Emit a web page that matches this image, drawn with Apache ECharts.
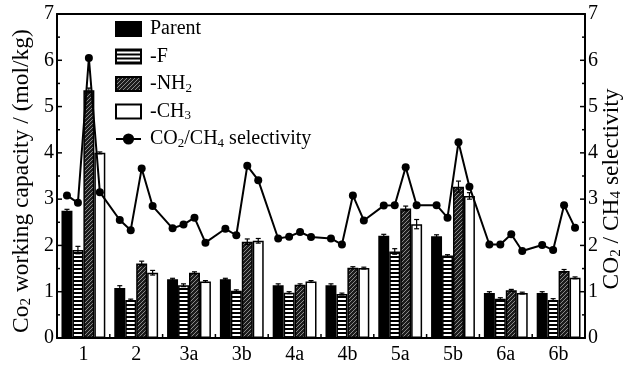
<!DOCTYPE html>
<html>
<head>
<meta charset="utf-8">
<script src="https://cdn.jsdelivr.net/npm/echarts@6/dist/echarts.min.js"></script>
<style>html,body{margin:0;padding:0;background:#fff}#c{width:625px;height:365px}</style>
</head>
<body>
<div id="c"></div>
<script>
// ---- data ----
const categories = ['1', '2', '3a', '3b', '4a', '4b', '5a', '5b', '6a', '6b'];
const seriesNames = ['Parent', '-F', '-NH2', '-CH3'];
const parentVals = [2.75, 1.08, 1.27, 1.27, 1.14, 1.14, 2.21, 2.20, 0.97, 0.97];
const fVals      = [1.90, 0.82, 1.14, 1.02, 0.98, 0.95, 1.87, 1.78, 0.85, 0.82];
const nh2Vals    = [5.35, 1.61, 1.41, 2.08, 1.15, 1.52, 2.80, 3.27, 1.03, 1.45];
const ch3Vals    = [4.00, 1.41, 1.22, 2.10, 1.22, 1.51, 2.46, 3.07, 0.97, 1.30];
const parentErr  = [0.03, 0.05, 0.02, 0.02, 0.03, 0.03, 0.03, 0.03, 0.03, 0.03];
const fErr       = [0.08, 0.02, 0.03, 0.02, 0.02, 0.02, 0.06, 0.02, 0.02, 0.03];
const nh2Err     = [0.05, 0.05, 0.02, 0.06, 0.02, 0.02, 0.05, 0.12, 0.02, 0.03];
const ch3Err     = [0.02, 0.05, 0.02, 0.05, 0.02, 0.02, 0.10, 0.07, 0.02, 0.02];
// CO2/CH4 selectivity, one value per bar (Parent, -F, -NH2, -CH3) for each category
const selectivity = [
  3.08, 2.92, 6.05, 3.15,
  2.55, 2.33, 3.66, 2.85,
  2.37, 2.45, 2.60, 2.06,
  2.36, 2.22, 3.72, 3.41,
  2.15, 2.19, 2.29, 2.18,
  2.15, 2.02, 3.08, 2.54,
  2.86, 2.87, 3.69, 2.87,
  2.87, 2.60, 4.23, 3.27,
  2.02, 2.02, 2.24, 1.88,
  2.01, 1.90, 2.87, 2.38
];
const yTicks = [0, 1, 2, 3, 4, 5, 6, 7];

// ---- patterns ----
function stripeCanvas() {
  const c = document.createElement('canvas'); c.width = 4; c.height = 4;
  const g = c.getContext('2d');
  g.fillStyle = '#fff'; g.fillRect(0, 0, 4, 4);
  g.fillStyle = '#000'; g.fillRect(0, 0, 4, 2);
  return c;
}
function hatchCanvas() {
  const c = document.createElement('canvas'); c.width = 4; c.height = 4;
  const g = c.getContext('2d');
  g.fillStyle = '#1c1c1c'; g.fillRect(0, 0, 4, 4);
  g.strokeStyle = '#8a8a8a'; g.lineWidth = 1;
  g.beginPath(); g.moveTo(-1, 5); g.lineTo(5, -1); g.stroke();
  return c;
}
const fills = [
  '#000',
  { image: stripeCanvas(), repeat: 'repeat' },
  { image: hatchCanvas(), repeat: 'repeat' },
  '#fff'
];
const barVals = [parentVals, fVals, nh2Vals, ch3Vals];
const barErrs = [parentErr, fErr, nh2Err, ch3Err];
const BW = 0.2075; // bar width as fraction of category

const FONT = 'Liberation Serif';
const subStyle = { fontSize: 13, fontFamily: FONT, color: '#000', verticalAlign: 'bottom', lineHeight: 13 };
const legendLabels = {
  'Parent': 'Parent', '-F': '-F', '-NH2': '-NH{s|2}', '-CH3': '-CH{s|3}',
  'CO2/CH4 selectivity': 'CO{s|2}/CH{s|4} selectivity'
};

const series = [];
seriesNames.forEach((n, j) => {
  series.push({
    name: n, type: 'bar', xAxisIndex: 0, yAxisIndex: 0,
    data: barVals[j], barWidth: (BW * 100) + '%', barGap: '0%',
    itemStyle: { color: fills[j], borderColor: '#000', borderWidth: 1.5 },
    z: 2
  });
});
const errData = [];
barVals.forEach((vals, j) => {
  vals.forEach((v, i) => {
    errData.push([i + 0.5 + (j - 1.5) * BW, v, barErrs[j][i]]);
  });
});
series.push({
  name: 'err', type: 'custom', xAxisIndex: 1, yAxisIndex: 0, z: 3,
  data: errData,
  renderItem: function (params, api) {
    const x = api.value(0), v = api.value(1), e = api.value(2);
    const top = api.coord([x, v + e]);
    const bot = api.coord([x, v - e]);
    const hw = 2.5;
    const st = { stroke: '#000', lineWidth: 1.2 };
    return { type: 'group', children: [
      { type: 'line', shape: { x1: top[0], y1: top[1], x2: bot[0], y2: bot[1] }, style: st },
      { type: 'line', shape: { x1: top[0] - hw, y1: top[1], x2: top[0] + hw, y2: top[1] }, style: st },
      { type: 'line', shape: { x1: bot[0] - hw, y1: bot[1], x2: bot[0] + hw, y2: bot[1] }, style: st }
    ]};
  }
});
const selData = selectivity.map((s, k) => {
  const i = Math.floor(k / 4), j = k % 4;
  return [i + 0.5 + (j - 1.5) * BW, s];
});
series.push({
  name: 'CO2/CH4 selectivity', type: 'line', xAxisIndex: 1, yAxisIndex: 1,
  data: selData, symbol: 'circle', symbolSize: 8, z: 5,
  lineStyle: { color: '#000', width: 2 }, itemStyle: { color: '#000' }
});

// axis ticks (inward), drawn through the axes' scales
const tickData = [];
yTicks.forEach(v => tickData.push([0, v, 5]));
yTicks.slice(0, -1).forEach(v => tickData.push([0, v + 0.5, 3]));
categories.forEach((c, i) => { if (i > 0) tickData.push([1, i, 4]); });
series.push({
  name: 'ticks', type: 'custom', xAxisIndex: 1, yAxisIndex: 0, z: 6, silent: true,
  data: tickData,
  renderItem: function (params, api) {
    const kind = api.value(0), v = api.value(1), len = api.value(2);
    const st = { stroke: '#000', lineWidth: 1.5 };
    if (kind === 0) {
      const l = api.coord([0, v]), r = api.coord([categories.length, v]);
      return { type: 'group', children: [
        { type: 'line', shape: { x1: l[0], y1: l[1], x2: l[0] + len, y2: l[1] }, style: st },
        { type: 'line', shape: { x1: r[0] - len, y1: r[1], x2: r[0], y2: r[1] }, style: st }
      ]};
    }
    const p = api.coord([v, 0]);
    return { type: 'line', shape: { x1: p[0], y1: p[1], x2: p[0], y2: p[1] - len }, style: st };
  }
});

function yAxisCfg(pos, name, gap, pad) {
  return {
    type: 'value', position: pos, min: yTicks[0], max: yTicks[yTicks.length - 1], interval: 1,
    splitLine: { show: false },
    axisLine: { show: true, lineStyle: { color: '#000', width: 2 } },
    axisTick: { show: false },
    axisLabel: { color: '#000', fontSize: 20, fontFamily: FONT, margin: 3 },
    name: name, nameLocation: 'middle', nameGap: gap, nameMoveOverlap: false,
    nameTextStyle: { color: '#000', fontSize: 23.5, fontFamily: FONT, lineHeight: 24, padding: pad,
      rich: { s: { fontSize: 15, fontFamily: FONT, color: '#000', verticalAlign: 'bottom', lineHeight: 15 } } }
  };
}

const option = {
  animation: false,
  backgroundColor: '#fff',
  grid: { left: 57, right: 40, top: 14, bottom: 27, outerBoundsMode: 'none', containLabel: false },
  legend: {
    data: [
      { name: 'Parent', icon: 'rect' }, { name: '-F', icon: 'rect' },
      { name: '-NH2', icon: 'rect' }, { name: '-CH3', icon: 'rect' },
      { name: 'CO2/CH4 selectivity' }
    ],
    orient: 'vertical', left: 110, top: 13, itemWidth: 25, itemHeight: 14, itemGap: 5.5,
    formatter: n => legendLabels[n],
    textStyle: { color: '#000', fontSize: 20, fontFamily: FONT, lineHeight: 22, padding: [0, 0, 0, 4], rich: { s: subStyle } }
  },
  xAxis: [
    {
      type: 'category', data: categories, position: 'bottom',
      axisLine: { lineStyle: { color: '#000', width: 2 } },
      axisTick: { show: false },
      axisLabel: { color: '#000', fontSize: 20, fontFamily: FONT, margin: 7 },
      splitLine: { show: false }
    },
    { type: 'value', min: 0, max: categories.length, show: false },
    {
      type: 'category', data: categories, position: 'top',
      axisLine: { show: true, lineStyle: { color: '#000', width: 2 } },
      axisTick: { show: false }, axisLabel: { show: false }, splitLine: { show: false }
    }
  ],
  yAxis: [
    yAxisCfg('left', 'Co{s|2} working capacity / (mol/kg)', 23, [0, 10, 0, 0]),
    yAxisCfg('right', 'CO{s|2} / CH{s|4} selectivity', 15, [0, 26, 0, 0])
  ],
  series: series
};
const chart = echarts.init(document.getElementById('c'), null, { renderer: 'canvas' });
chart.setOption(option);
</script>
</body>
</html>
